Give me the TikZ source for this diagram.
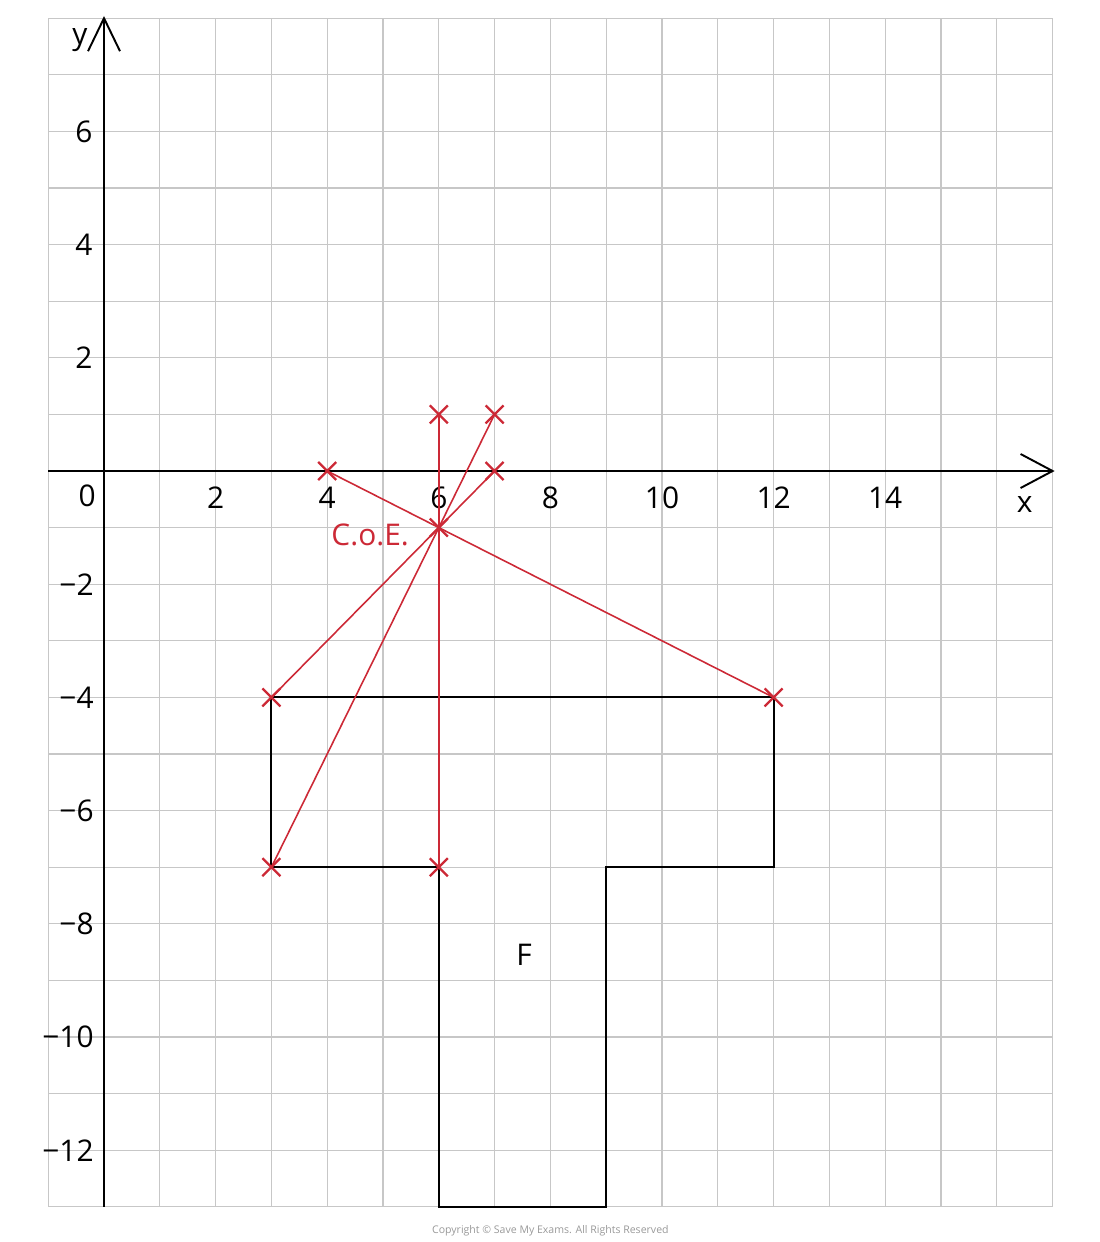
\documentclass[tikz,border=0pt]{standalone}
\usepackage{fontspec}
\setmainfont{Open Sans}
\begin{document}
\begin{tikzpicture}[x=1.116cm,y=1.132cm,
  gridline/.style={draw=black!22,line width=0.6pt},
  axis/.style={draw=black,line width=1.1pt},
  shapeline/.style={draw=black,line width=1.1pt,line join=miter},
  redline/.style={draw=coered,line width=0.9pt},
  lab/.style={font=\fontsize{17}{20}\selectfont,inner sep=0pt},
  ylab/.style={lab,anchor=east}]
\definecolor{coered}{RGB}{204,41,54}
\useasboundingbox (-2.08cm,-15.42cm) rectangle (19.92cm,9.42cm);
% grid
\foreach \i in {-1,...,17} \draw[gridline] (\i,-13) -- (\i,8);
\foreach \j in {-13,...,8} \draw[gridline] (-1,\j) -- (17,\j);
% axes
\coordinate (xstart) at (-1,0);
\coordinate (xtip) at (17,0);
\coordinate (ystart) at (0,-13);
\coordinate (ytip) at (0,8);
\draw[axis] (xstart) -- (xtip);
\draw[axis] (ystart) -- (ytip);
\draw[axis,line join=miter] ([shift={(-0.64cm,0.34cm)}]xtip) -- (xtip) -- ([shift={(-0.64cm,-0.34cm)}]xtip);
\draw[axis,line join=miter] ([shift={(-0.32cm,-0.66cm)}]ytip) -- (ytip) -- ([shift={(0.32cm,-0.66cm)}]ytip);
\node[lab] (ylabel) at (-0.43,7.61) {y};
\node[lab] (xlabel) at (16.5,-0.6) {x};
% tick labels
\node[lab] (l0) at (-0.3,-0.44) {0};
\foreach \v in {2,4,...,14} \node[lab] (lx\v) at (\v,-0.48) {\v};
\foreach \v in {6,4,2} \node[ylab] (ly\v) at (-0.2,\v) {\v};
\foreach \v in {2,4,...,12} \node[ylab] (lym\v) at (-0.18,-\v) {−\v};
% shape F
\draw[shapeline] (3,-4) -- (12,-4) -- (12,-7) -- (9,-7) -- (9,-13) -- (6,-13) -- (6,-7) -- (3,-7) -- cycle;
\node[lab] (F) at (7.53,-8.55) {F};
% red points
\coordinate (coe) at (6,-1);
\coordinate (a) at (3,-4);
\coordinate (b) at (12,-4);
\coordinate (c) at (3,-7);
\coordinate (d) at (6,-7);
\coordinate (e) at (4,0);
\coordinate (f) at (7,0);
\coordinate (g) at (6,1);
\coordinate (h) at (7,1);
\draw[redline] (a) -- (f);
\draw[redline] (c) -- (h);
\draw[redline] (b) -- (e);
\draw[redline] (d) -- (g);
\foreach \p in {coe,a,b,c,d,e,f,g,h}
  \draw[redline,line width=1.3pt] ([shift={(-0.18cm,-0.18cm)}]\p) -- ([shift={(0.18cm,0.18cm)}]\p)
        ([shift={(-0.18cm,0.18cm)}]\p) -- ([shift={(0.18cm,-0.18cm)}]\p);
\node[lab,text=coered] (coelabel) at (4.77,-1.13) {C.o.E.};
% copyright
\node[font=\fontsize{6}{7}\selectfont,text=black!40,inner sep=0pt] (copy) at (8,-13.43) {Copyright © Save My Exams. All Rights Reserved};
\end{tikzpicture}
\end{document}
